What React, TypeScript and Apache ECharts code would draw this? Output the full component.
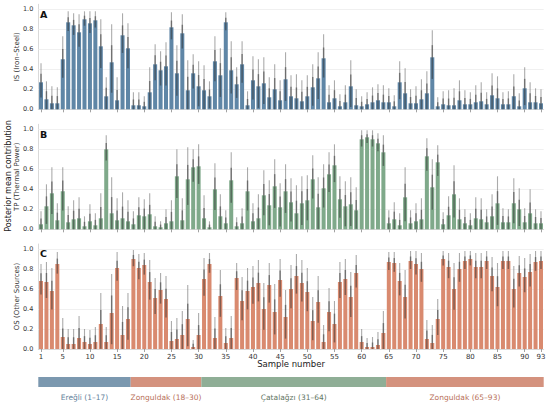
import React, { useEffect, useRef } from 'react';
import * as echarts from 'echarts';

const sampleNumbers = Array.from({ length: 93 }, (_, i) => String(i + 1));
const tickLabels = ['1', '5', '10', '15', '20', '25', '30', '35', '40', '45', '50', '55', '60', '65', '70', '75', '80', '85', '90', '93'];
const yTicks = [0.2, 0.4, 0.6, 0.8, 1.0];

// Panel A: IS (Iron–Steel) posterior mean and upper interval bound
const isMean = [0.27, 0.10, 0.06, 0.06, 0.50, 0.87, 0.84, 0.77, 0.90, 0.86, 0.89, 0.63, 0.13, 0.47, 0.09, 0.74, 0.61, 0.04, 0.04, 0.03, 0.17, 0.45, 0.39, 0.43, 0.82, 0.36, 0.76, 0.19, 0.36, 0.23, 0.19, 0.13, 0.48, 0.34, 0.87, 0.39, 0.25, 0.45, 0.04, 0.29, 0.23, 0.26, 0.12, 0.20, 0.09, 0.30, 0.13, 0.11, 0.08, 0.13, 0.22, 0.31, 0.51, 0.07, 0.11, 0.03, 0.07, 0.23, 0.04, 0.03, 0.05, 0.07, 0.09, 0.07, 0.07, 0.03, 0.27, 0.16, 0.06, 0.06, 0.10, 0.16, 0.52, 0.03, 0.05, 0.04, 0.04, 0.09, 0.05, 0.05, 0.07, 0.08, 0.05, 0.14, 0.11, 0.05, 0.05, 0.13, 0.03, 0.21, 0.07, 0.07, 0.06];
const isHi = [0.46, 0.28, 0.23, 0.22, 0.73, 0.98, 0.96, 0.95, 0.98, 0.98, 0.98, 0.90, 0.32, 0.85, 0.32, 0.96, 0.86, 0.17, 0.17, 0.13, 0.42, 0.65, 0.58, 0.67, 0.97, 0.64, 0.95, 0.49, 0.55, 0.48, 0.44, 0.28, 0.73, 0.61, 0.97, 0.68, 0.42, 0.68, 0.18, 0.53, 0.50, 0.52, 0.32, 0.45, 0.29, 0.57, 0.34, 0.35, 0.29, 0.34, 0.45, 0.57, 0.75, 0.24, 0.29, 0.15, 0.24, 0.49, 0.20, 0.13, 0.17, 0.22, 0.25, 0.24, 0.21, 0.14, 0.48, 0.41, 0.20, 0.23, 0.30, 0.38, 0.79, 0.12, 0.18, 0.19, 0.21, 0.29, 0.19, 0.17, 0.24, 0.27, 0.17, 0.36, 0.33, 0.17, 0.18, 0.35, 0.16, 0.42, 0.27, 0.21, 0.20];

// Panel B: TP (Thermal Power)
const tpMean = [0.05, 0.23, 0.36, 0.09, 0.38, 0.07, 0.10, 0.11, 0.03, 0.08, 0.04, 0.11, 0.80, 0.16, 0.09, 0.11, 0.08, 0.05, 0.14, 0.13, 0.15, 0.03, 0.02, 0.06, 0.08, 0.53, 0.09, 0.50, 0.62, 0.63, 0.11, 0.02, 0.40, 0.13, 0.06, 0.49, 0.03, 0.06, 0.38, 0.08, 0.11, 0.34, 0.24, 0.43, 0.22, 0.38, 0.27, 0.16, 0.26, 0.29, 0.50, 0.22, 0.41, 0.55, 0.64, 0.30, 0.23, 0.25, 0.19, 0.90, 0.92, 0.90, 0.86, 0.77, 0.06, 0.10, 0.04, 0.32, 0.06, 0.08, 0.10, 0.73, 0.42, 0.67, 0.05, 0.14, 0.35, 0.10, 0.06, 0.04, 0.11, 0.10, 0.07, 0.13, 0.26, 0.07, 0.07, 0.26, 0.20, 0.07, 0.16, 0.06, 0.06];
const tpHi = [0.18, 0.45, 0.62, 0.26, 0.62, 0.23, 0.29, 0.32, 0.13, 0.25, 0.16, 0.36, 0.94, 0.52, 0.31, 0.37, 0.29, 0.18, 0.32, 0.30, 0.36, 0.13, 0.08, 0.20, 0.29, 0.80, 0.31, 0.82, 0.80, 0.85, 0.34, 0.08, 0.66, 0.35, 0.19, 0.77, 0.12, 0.21, 0.62, 0.26, 0.35, 0.59, 0.49, 0.70, 0.46, 0.65, 0.51, 0.44, 0.53, 0.54, 0.74, 0.52, 0.65, 0.77, 0.85, 0.53, 0.48, 0.52, 0.42, 0.99, 0.99, 0.99, 0.96, 0.94, 0.19, 0.27, 0.16, 0.62, 0.19, 0.26, 0.31, 0.91, 0.70, 0.84, 0.17, 0.33, 0.64, 0.31, 0.20, 0.16, 0.32, 0.31, 0.20, 0.35, 0.53, 0.21, 0.20, 0.51, 0.41, 0.21, 0.40, 0.20, 0.18];

// Panel C: OS (Other Sources)
const osMean = [0.68, 0.67, 0.58, 0.85, 0.12, 0.05, 0.05, 0.11, 0.07, 0.05, 0.07, 0.25, 0.07, 0.36, 0.81, 0.14, 0.30, 0.90, 0.81, 0.84, 0.67, 0.51, 0.59, 0.50, 0.08, 0.10, 0.14, 0.30, 0.02, 0.14, 0.70, 0.85, 0.11, 0.53, 0.06, 0.11, 0.71, 0.48, 0.58, 0.62, 0.66, 0.40, 0.64, 0.37, 0.69, 0.32, 0.60, 0.73, 0.66, 0.57, 0.28, 0.47, 0.07, 0.37, 0.25, 0.67, 0.70, 0.52, 0.76, 0.07, 0.02, 0.02, 0.04, 0.16, 0.87, 0.86, 0.68, 0.52, 0.88, 0.85, 0.80, 0.10, 0.06, 0.30, 0.90, 0.82, 0.60, 0.80, 0.88, 0.90, 0.82, 0.82, 0.88, 0.73, 0.62, 0.88, 0.88, 0.60, 0.76, 0.72, 0.77, 0.87, 0.88];
const osHi = [0.85, 0.87, 0.81, 0.97, 0.31, 0.20, 0.20, 0.33, 0.20, 0.19, 0.22, 0.56, 0.22, 0.75, 0.97, 0.43, 0.56, 0.99, 0.95, 0.96, 0.89, 0.71, 0.76, 0.73, 0.28, 0.31, 0.38, 0.64, 0.09, 0.36, 0.91, 0.96, 0.32, 0.79, 0.21, 0.33, 0.86, 0.72, 0.81, 0.83, 0.89, 0.66, 0.86, 0.65, 0.90, 0.59, 0.84, 0.95, 0.89, 0.81, 0.52, 0.73, 0.24, 0.61, 0.48, 0.87, 0.90, 0.77, 0.94, 0.20, 0.11, 0.12, 0.17, 0.38, 0.97, 0.97, 0.86, 0.79, 0.98, 0.98, 0.96, 0.29, 0.24, 0.50, 0.98, 0.96, 0.86, 0.96, 0.98, 0.98, 0.96, 0.96, 0.98, 0.92, 0.86, 0.98, 0.98, 0.83, 0.93, 0.91, 0.95, 0.98, 0.98];

const panelLetters = ['A', 'B', 'C'];
const panelNames = ['IS (Iron–Steel)', 'TP (Thermal Power)', 'OS (Other Sources)'];
const panelMeans = [isMean, tpMean, osMean];
const panelHis = [isHi, tpHi, osHi];
const panelColors = ['#5f86a6', '#7fa98a', '#d98a6f'];

const regionNames = ['Ereğli (1–17)', 'Zonguldak (18–30)', 'Çatalağzı (31–64)', 'Zonguldak (65–93)'];
const regionStarts = [1, 18, 31, 65];
const regionEnds = [17, 30, 64, 93];
const regionColors = ['#7b98af', '#d4927e', '#8fae96', '#d4927e'];
const regionTextColors = ['#62819b', '#b8705a', '#5f7564', '#b8705a'];

const FONT = 'DejaVu Sans';

export default function App() {
  const ref = useRef<HTMLDivElement>(null);

  useEffect(() => {
    document.body.style.margin = '0';
    if (!ref.current) return;
    const chart = echarts.init(ref.current, undefined, { renderer: 'svg' });

    const tickSet = new Set(tickLabels);
    const gridTops = [4.3, 124.3, 244];
    const left = 38.3;
    const right = 6.3;

    const grids: any[] = gridTops.map((t) => ({ left, right, top: t, height: 105 }));
    grids.push({ left, right, top: 377, height: 10 });

    const xAxes: any[] = gridTops.map((_, i) => ({
      type: 'category',
      gridIndex: i,
      data: sampleNumbers,
      boundaryGap: true,
      axisLine: { show: true, lineStyle: { color: '#cfcfcf', width: 0.8 } },
      axisTick: {
        show: true,
        alignWithLabel: true,
        interval: (_idx: number, val: string) => tickSet.has(val),
        length: 3,
        lineStyle: { color: '#8a8a8a', width: 0.8 },
      },
      axisLabel: {
        show: i === 2,
        interval: (_idx: number, val: string) => tickSet.has(val),
        fontSize: 7,
        color: '#333',
        margin: 4,
        fontFamily: FONT,
      },
      splitLine: { show: false },
    }));
    xAxes.push({ type: 'value', gridIndex: 3, min: 0.5, max: 93.5, show: false });

    const yAxes: any[] = gridTops.map((_, i) => ({
      type: 'value',
      gridIndex: i,
      min: 0,
      max: 1.05,
      interval: 0.2,
      name: panelNames[i],
      nameLocation: 'middle',
      nameGap: 17.5,
      nameMoveOverlap: false,
      nameTextStyle: { fontSize: 7, color: '#333', fontFamily: FONT },
      axisLine: { show: true, lineStyle: { color: '#cfcfcf', width: 0.8 } },
      axisTick: { show: false },
      axisLabel: {
        fontSize: 6.5,
        color: '#333',
        margin: 5,
        fontFamily: FONT,
        formatter: (v: number) => (Math.abs(v * 5 - Math.round(v * 5)) < 1e-6 ? v.toFixed(1) : ''),
      },
      splitLine: { show: false },
    }));
    yAxes.push({ type: 'value', gridIndex: 3, min: 0, max: 1, show: false });

    const series: any[] = [];
    gridTops.forEach((_, i) => {
      const mean = panelMeans[i];
      const hi = panelHis[i];
      series.push({
        type: 'bar',
        xAxisIndex: i,
        yAxisIndex: i,
        data: mean,
        barWidth: '74%',
        itemStyle: { color: panelColors[i] },
        z: 2,
        markLine: {
          silent: true,
          symbol: 'none',
          z: 1,
          label: { show: false },
          lineStyle: { color: '#ececec', width: 0.8, type: 'solid' },
          data: yTicks.map((v) => ({ yAxis: v })),
        },
      });
      series.push({
        type: 'custom',
        xAxisIndex: i,
        yAxisIndex: i,
        z: 3,
        clip: false,
        data: mean.map((m, j) => [j, m, hi[j]]),
        encode: { x: 0, y: [1, 2] },
        renderItem: (_p: any, api: any) => {
          const idx = api.value(0);
          const m = api.value(1);
          const h = api.value(2);
          const d = h - m;
          const pTop = api.coord([idx, h]);
          const pMid = api.coord([idx, m]);
          // darker inner band: approximate central interval drawn around the mean
          const pIt = api.coord([idx, m + 0.45 * d]);
          const pIb = api.coord([idx, Math.max(0, m - 0.8 * d)]);
          return {
            type: 'group',
            children: [
              {
                type: 'line',
                shape: { x1: pTop[0], y1: pTop[1], x2: pMid[0], y2: pMid[1] },
                style: { stroke: 'rgba(115,115,115,0.6)', lineWidth: 1.1 },
              },
              {
                type: 'line',
                shape: { x1: pIt[0], y1: pIt[1], x2: pIb[0], y2: pIb[1] },
                style: { stroke: 'rgba(45,45,45,0.5)', lineWidth: 1.5 },
              },
            ],
          };
        },
      });
    });

    series.push({
      type: 'custom',
      xAxisIndex: 3,
      yAxisIndex: 3,
      clip: false,
      data: regionNames.map((_, k) => [regionStarts[k] - 0.5, regionEnds[k] + 0.5, k]),
      encode: { x: [0, 1] },
      renderItem: (_p: any, api: any) => {
        const s = api.value(0);
        const e = api.value(1);
        const k = api.value(2);
        const p0 = api.coord([s, 1]);
        const p1 = api.coord([e, 0]);
        return {
          type: 'group',
          children: [
            {
              type: 'rect',
              shape: { x: p0[0], y: p0[1], width: p1[0] - p0[0], height: p1[1] - p0[1] },
              style: { fill: regionColors[k] },
            },
            {
              type: 'text',
              x: (p0[0] + p1[0]) / 2,
              y: p1[1] + 10,
              style: {
                text: regionNames[k],
                fill: regionTextColors[k],
                fontSize: 7.5,
                fontFamily: FONT,
                align: 'center',
                verticalAlign: 'middle',
              },
            },
          ],
        };
      },
    });

    const letterY = [14, 134, 253];
    const graphic: any[] = panelLetters.map((l, i) => ({
      type: 'text',
      x: 40,
      y: letterY[i],
      style: {
        text: l,
        fontSize: 9.5,
        fontWeight: 'bold',
        fill: '#111',
        fontFamily: FONT,
        align: 'left',
        verticalAlign: 'middle',
      },
    }));
    graphic.push({
      type: 'text',
      x: 8,
      y: 176,
      rotation: Math.PI / 2,
      style: {
        text: 'Posterior mean contribution',
        fontSize: 8,
        fill: '#222',
        fontFamily: FONT,
        align: 'center',
        verticalAlign: 'middle',
      },
    });
    graphic.push({
      type: 'text',
      x: 291,
      y: 364,
      style: {
        text: 'Sample number',
        fontSize: 8.5,
        fill: '#222',
        fontFamily: FONT,
        align: 'center',
        verticalAlign: 'middle',
      },
    });

    chart.setOption({
      animation: false,
      backgroundColor: '#ffffff',
      textStyle: { fontFamily: FONT },
      grid: grids,
      xAxis: xAxes,
      yAxis: yAxes,
      series,
      graphic,
    });

    return () => chart.dispose();
  }, []);

  return <div ref={ref} style={{ width: 550, height: 405 }} />;
}
